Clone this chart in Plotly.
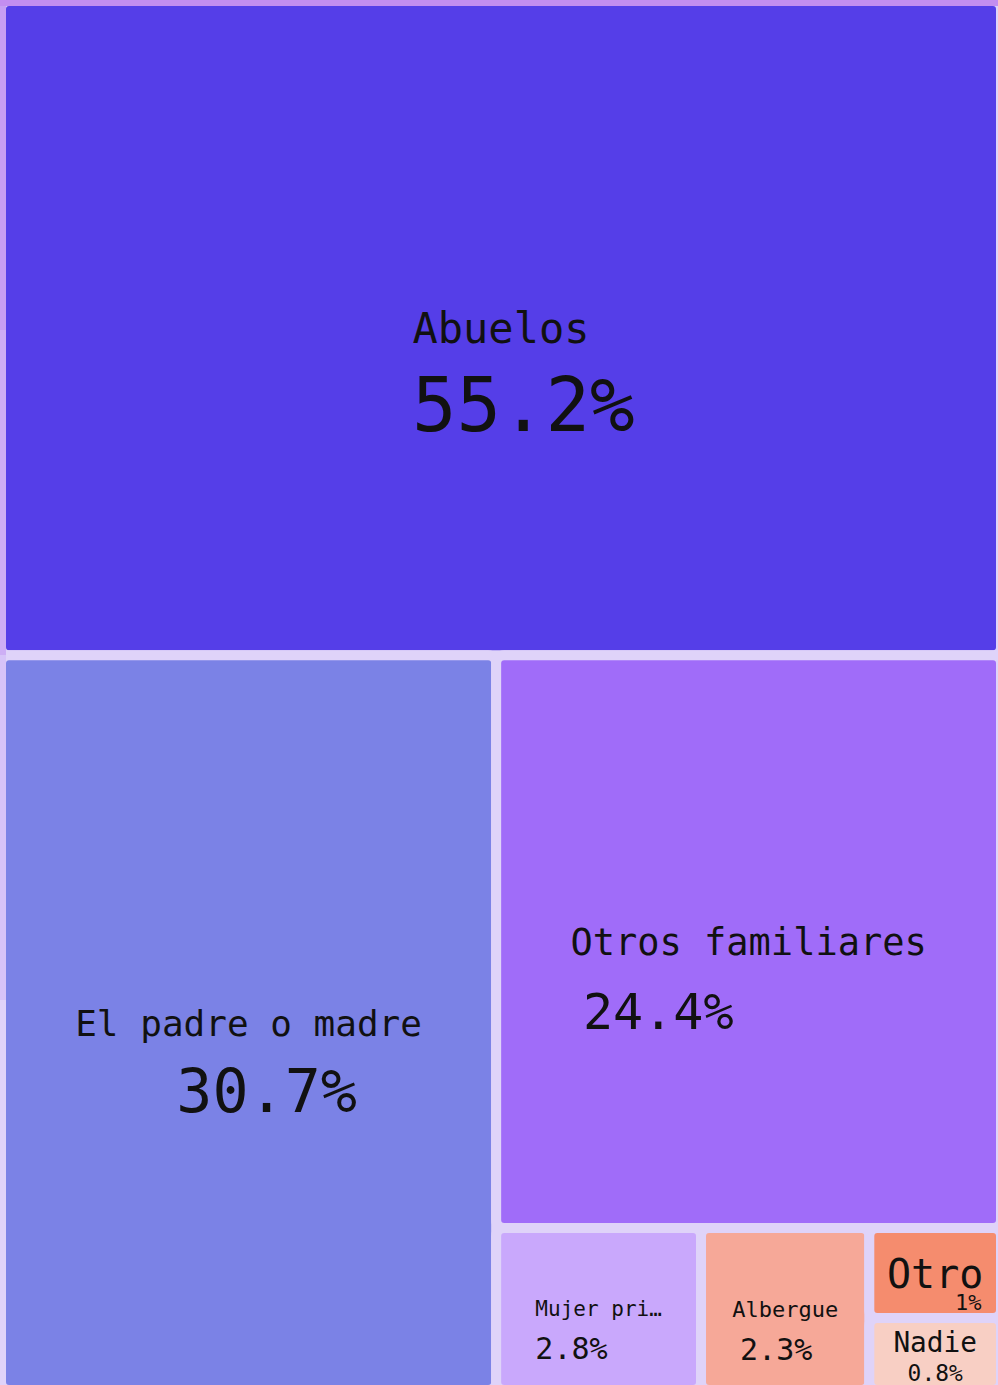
import plotly.graph_objects as go

labels = ["Abuelos", "El padre o madre", "Otros familiares", "Mujer privada de libertad",
          "Albergue", "Otro", "Nadie"]
short_labels = ["Abuelos", "El padre o madre", "Otros familiares", "Mujer pri…",
                "Albergue", "Otro", "Nadie"]
values = [55.2, 30.7, 24.4, 2.8, 2.3, 1.0, 0.8]
value_text = ["55.2%", "30.7%", "24.4%", "2.8%", "2.3%", "1%", "0.8%"]
colors = ["#553ee8", "#7b82e6", "#a06cf9", "#c9a8fc", "#f6a898", "#f58c6e", "#f8cfc4"]
label_sizes = [42, 36, 37, 21, 22, 40, 34]
value_sizes = [74, 60, 50, 30, 30, 22, 28]
line_sizes = [68, 59, 57, 33, 33, 17, 28]
spacer_sizes = [51, 43, 41, 24, 25, 37, 1]
value_shift = [1, 1, -6, -3, -1, 5, 0]   # nbsp padding: >0 leading, <0 trailing
bg = "#dfd3f9"

W, H, ML, MT = 1001, 1390, 1, 1
NB = "\u00a0"

texts = []
for lab, vt, ls, vs, ss, sh in zip(short_labels, value_text, label_sizes, value_sizes,
                                   spacer_sizes, value_shift):
    vpad = (NB * sh + vt) if sh > 0 else (vt + NB * (-sh))
    texts.append(f"<span style='font-size:{ss}px;color:rgba(0,0,0,0)'>{vt}</span><br>"
                 f"<span style='font-size:{ls}px'>{lab}</span><br>"
                 f"<span style='font-size:{vs}px'>{vpad}</span>")

root = "Total"
fig = go.Figure(go.Treemap(
    ids=[root] + labels,
    labels=[root] + labels,
    parents=[""] + [root] * len(labels),
    values=[sum(values)] + values,
    branchvalues="total",
    text=[""] + texts,
    texttemplate="%{text}",
    textposition="middle center",
    textfont=dict(family="DejaVu Sans Mono", color="#111111", size=[10] + line_sizes),
    marker=dict(colors=[bg] + colors, line=dict(color=bg, width=10), cornerradius=8,
                pad=dict(t=0, l=0, r=0, b=0)),
    tiling=dict(packing="squarify", pad=0),
    sort=True,
    hoverinfo="none",
    pathbar=dict(visible=False),
))

pw, ph = W - ML, H - MT


def px_x(p):
    return (p - ML) / pw


def px_y(p):
    return 1 - (p - MT) / ph


strips = [
    (0, 998, 0, 6, "#c38ef0"),
    (0, 6, 6, 330, "#c79ef3"),
    (0, 6, 330, 655, "#cdaef5"),
    (0, 6, 655, 1000, "#d6c3f8"),
]
for x0, x1, y0, y1, c in strips:
    fig.add_shape(type="rect", xref="paper", yref="paper", layer="above",
                  x0=px_x(x0), x1=px_x(x1), y0=px_y(y1), y1=px_y(y0),
                  fillcolor=c, line=dict(width=0))

fig.update_layout(
    width=W, height=H,
    margin=dict(l=ML, r=0, t=MT, b=0),
    paper_bgcolor=bg,
    hovermode=False,
)

fig.write_html("out.html",
               post_script="document.body.style.margin='0';document.body.style.overflow='hidden';",
               config={"staticPlot": True})
